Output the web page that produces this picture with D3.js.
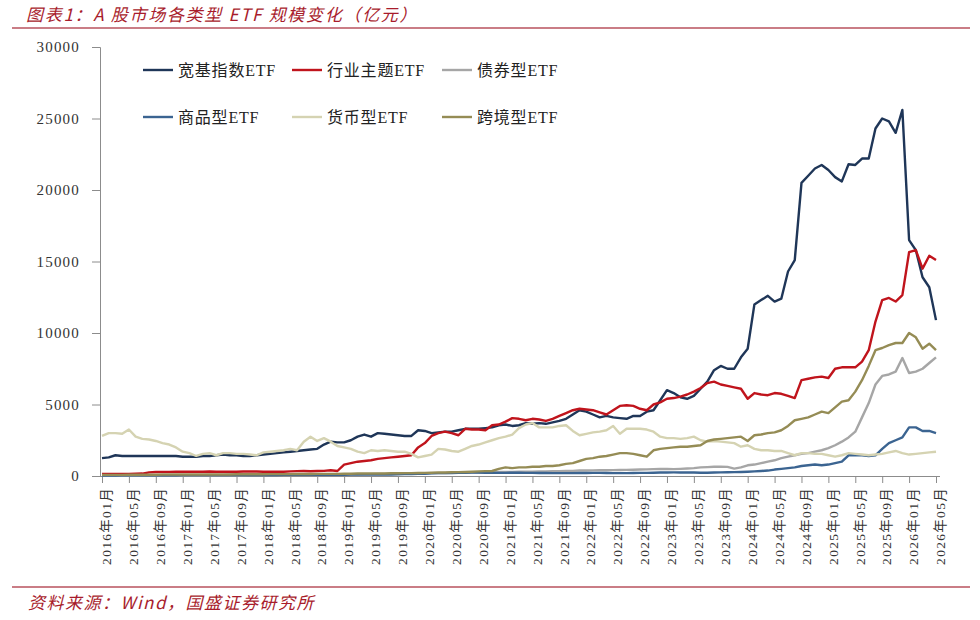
<!DOCTYPE html>
<html>
<head>
<meta charset="utf-8">
<script src="https://cdn.jsdelivr.net/npm/d3@7"></script>
<style>
  body { margin: 0; background: #fff; }
  svg { display: block; }
</style>
</head>
<body>
<svg id="chart" width="980" height="620"></svg>
<script>
// monthly data, 2016-01 .. 2026-05 (亿元)
const monthCount = 125;

const seriesNames = ["宽基指数ETF", "行业主题ETF", "债券型ETF", "商品型ETF", "货币型ETF", "跨境型ETF"];
const seriesColors = ["#1f3658", "#c0141c", "#a6a6a6", "#3b6491", "#d5d3b2", "#958c55"];

const broadBase = [
  1250,1300,1450,1400,1400,1400,1400,1400,1400,1400,1400,1400,
  1350,1350,1350,1400,1400,1450,1500,1450,1450,1400,1400,1450,
  1500,1550,1600,1650,1700,1750,1800,1850,1900,2200,2400,2350,
  2350,2500,2750,2900,2750,3000,2950,2900,2850,2800,2800,3200,
  3150,3000,3050,3100,3100,3200,3300,3300,3300,3350,3400,3550,
  3600,3500,3550,3700,3650,3700,3650,3750,3850,4000,4300,4600,
  4500,4300,4100,4200,4100,4050,4000,4200,4200,4500,4600,5300,
  6000,5800,5500,5400,5600,6100,6600,7400,7700,7500,7500,8300,
  8900,12000,12300,12600,12200,12400,14300,15100,20500,21000,21500,21750,
  21400,20900,20600,21800,21750,22200,22200,24300,25000,24800,24000,25600,
  16500,15800,13900,13200,10900
];
const sector = [
  150,150,150,150,150,160,170,250,280,290,290,300,
  300,300,300,300,310,300,300,300,300,310,320,310,
  300,300,300,300,320,340,350,330,350,360,400,350,
  800,900,1000,1050,1100,1200,1250,1300,1350,1400,1450,2000,
  2300,2800,3000,3100,3000,2850,3300,3250,3250,3200,3550,3600,
  3800,4050,4000,3900,4000,3950,3850,4000,4200,4400,4600,4700,
  4650,4600,4450,4300,4600,4900,4950,4900,4700,4600,5000,5150,
  5400,5450,5550,5700,5900,6150,6500,6600,6400,6300,6200,6100,
  5400,5800,5700,5650,5800,5750,5600,5450,6700,6800,6900,6950,
  6850,7500,7600,7600,7600,8000,8800,10800,12300,12450,12200,12650,
  15650,15800,14500,15400,15100
];
const bond = [
  50,50,50,50,50,50,60,60,60,60,60,60,
  60,60,60,60,70,70,70,70,70,70,80,80,
  80,80,80,90,90,90,100,100,100,100,100,110,
  110,120,120,130,130,140,140,150,150,160,170,180,
  190,200,200,210,220,230,240,250,250,260,270,280,
  280,290,300,300,300,310,320,330,340,350,360,380,
  380,390,400,400,410,420,430,440,450,460,480,490,
  500,480,500,520,550,600,620,650,650,640,520,600,
  750,800,900,1000,1100,1250,1350,1450,1550,1600,1700,1800,
  1950,2150,2400,2700,3100,4100,5100,6400,7000,7100,7300,8250,
  7200,7300,7500,7900,8300
];
const commodity = [
  40,40,40,50,50,50,50,50,50,50,50,50,
  60,60,60,60,60,60,60,70,70,70,70,70,
  70,70,70,80,80,80,80,80,80,90,90,90,
  90,100,100,100,100,110,110,110,120,130,140,150,
  160,180,200,200,210,220,230,240,240,230,220,220,
  220,230,230,220,220,210,210,200,200,200,200,210,
  210,220,220,210,200,200,200,210,220,220,230,240,
  240,250,250,240,240,230,230,240,250,260,270,280,
  300,320,350,380,450,500,550,600,700,750,800,750,
  800,900,1000,1450,1450,1450,1400,1450,1900,2300,2500,2700,
  3400,3400,3150,3150,3000
];
const money = [
  2800,3000,3000,2950,3250,2750,2600,2550,2450,2300,2200,2000,
  1700,1600,1400,1550,1600,1450,1600,1600,1550,1550,1500,1450,
  1650,1700,1750,1800,1900,1800,2400,2750,2450,2650,2400,2100,
  2000,1900,1700,1600,1800,1750,1800,1750,1700,1700,1550,1300,
  1400,1500,1900,1850,1750,1700,1900,2100,2200,2350,2500,2650,
  2750,2900,3350,3600,3700,3400,3400,3400,3500,3550,3150,2850,
  2950,3050,3100,3200,3500,2950,3300,3300,3300,3250,3100,2750,
  2650,2650,2600,2650,2750,2500,2400,2450,2400,2350,2300,2050,
  2150,1900,1800,1800,1750,1750,1600,1450,1600,1600,1550,1550,
  1450,1350,1450,1600,1550,1500,1450,1500,1550,1650,1750,1600,
  1500,1550,1600,1650,1700
];
const crossBorder = [
  80,80,80,80,90,90,90,90,90,100,100,100,
  100,100,100,100,110,110,110,110,120,120,120,120,
  120,130,130,130,130,140,140,140,150,150,150,150,
  160,160,170,170,170,180,180,190,190,200,200,210,
  220,230,250,250,260,270,280,300,320,340,350,500,
  600,550,600,600,650,650,700,700,750,850,900,1050,
  1200,1250,1350,1400,1500,1600,1600,1550,1450,1350,1800,1900,
  1950,2000,2050,2050,2100,2150,2450,2550,2600,2650,2700,2750,
  2450,2850,2900,3000,3050,3200,3500,3900,4000,4100,4300,4500,
  4400,4800,5200,5300,5900,6700,7700,8800,8950,9150,9300,9300,
  10000,9700,8900,9250,8800
];

const yTicks = [0, 5000, 10000, 15000, 20000, 25000, 30000];
const xTickLabels = [
  "2016年01月","2016年05月","2016年09月","2017年01月","2017年05月","2017年09月",
  "2018年01月","2018年05月","2018年09月","2019年01月","2019年05月","2019年09月",
  "2020年01月","2020年05月","2020年09月","2021年01月","2021年05月","2021年09月",
  "2022年01月","2022年05月","2022年09月","2023年01月","2023年05月","2023年09月",
  "2024年01月","2024年05月","2024年09月","2025年01月","2025年05月","2025年09月",
  "2026年01月","2026年05月"
];

const allSeries = [broadBase, sector, bond, commodity, money, crossBorder];

const svg = d3.select("#chart");
const serif = "'Liberation Serif', 'Noto Sans CJK SC', serif";
const red = "#a81c2c";

// title + rules
svg.append("text")
  .attr("x", 26).attr("y", 21)
  .attr("font-family", "'Noto Sans CJK SC', sans-serif")
  .attr("font-style", "italic")
  .attr("font-size", 17)
  .attr("letter-spacing", 1.7)
  .attr("fill", red)
  .text("图表1：A 股市场各类型 ETF 规模变化（亿元）");
svg.append("line")
  .attr("x1", 12).attr("x2", 970).attr("y1", 28).attr("y2", 28)
  .attr("stroke", "#b8525e").attr("stroke-width", 1.5);
svg.append("line")
  .attr("x1", 12).attr("x2", 970).attr("y1", 587).attr("y2", 587)
  .attr("stroke", "#b8525e").attr("stroke-width", 1.5);
svg.append("text")
  .attr("x", 28).attr("y", 609)
  .attr("font-family", "'Noto Sans CJK SC', sans-serif")
  .attr("font-style", "italic")
  .attr("font-size", 17)
  .attr("letter-spacing", 1.5)
  .attr("fill", red)
  .text("资料来源：Wind，国盛证券研究所");

const x = d3.scaleLinear().domain([0, monthCount - 1]).range([102, 936]);
const y = d3.scaleLinear().domain([0, 30000]).range([476, 47]);

// y axis
const yAxis = svg.append("g")
  .attr("transform", "translate(100,0)")
  .call(d3.axisLeft(y).tickValues(yTicks).tickSize(8).tickPadding(12).tickFormat(d3.format("d")));
yAxis.select(".domain").attr("stroke", "#8c8c8c");
yAxis.selectAll(".tick line").attr("stroke", "#8c8c8c");
yAxis.selectAll("text")
  .attr("font-family", serif).attr("font-size", 15)
  .attr("letter-spacing", 1.2).attr("fill", "#333");

// x axis
const xTickIdx = xTickLabels.map((d, i) => i * 4);
const xAxis = svg.append("g")
  .attr("transform", "translate(0,476)")
  .call(d3.axisBottom(x).tickValues(xTickIdx).tickSize(7).tickFormat((d, i) => xTickLabels[i]));
xAxis.select(".domain").attr("stroke", "#8c8c8c").attr("d", "M100,0.5H940");
xAxis.selectAll(".tick line").attr("stroke", "#8c8c8c");
xAxis.selectAll("text")
  .attr("font-family", serif).attr("font-size", 13.5)
  .attr("letter-spacing", 1.3).attr("fill", "#333")
  .attr("text-anchor", "end")
  .attr("transform", "translate(4,11) rotate(-90)")
  .attr("x", 0).attr("y", 0).attr("dy", "0.35em");

// lines
const line = d3.line().x((d, i) => x(i)).y(d => y(d)).curve(d3.curveLinear);
svg.append("g").selectAll("path")
  .data(allSeries)
  .join("path")
  .attr("d", line)
  .attr("fill", "none")
  .attr("stroke", (d, i) => seriesColors[i])
  .attr("stroke-width", 2.4)
  .attr("stroke-linejoin", "round");

// legend
const legendCols = [143, 292, 442];
const legendRows = [70, 117];
const legend = svg.append("g").selectAll("g")
  .data(seriesNames)
  .join("g")
  .attr("transform", (d, i) => `translate(${legendCols[i % 3]},${legendRows[Math.floor(i / 3)]})`);
legend.append("line")
  .attr("x1", 0).attr("x2", 30).attr("y1", 0).attr("y2", 0)
  .attr("stroke", (d, i) => seriesColors[i]).attr("stroke-width", 2.4);
legend.append("text")
  .attr("x", 35).attr("y", 0).attr("dy", "0.35em")
  .attr("font-family", serif).attr("font-size", 16)
  .attr("letter-spacing", 0.8).attr("fill", "#222")
  .text(d => d);
</script>
</body>
</html>
